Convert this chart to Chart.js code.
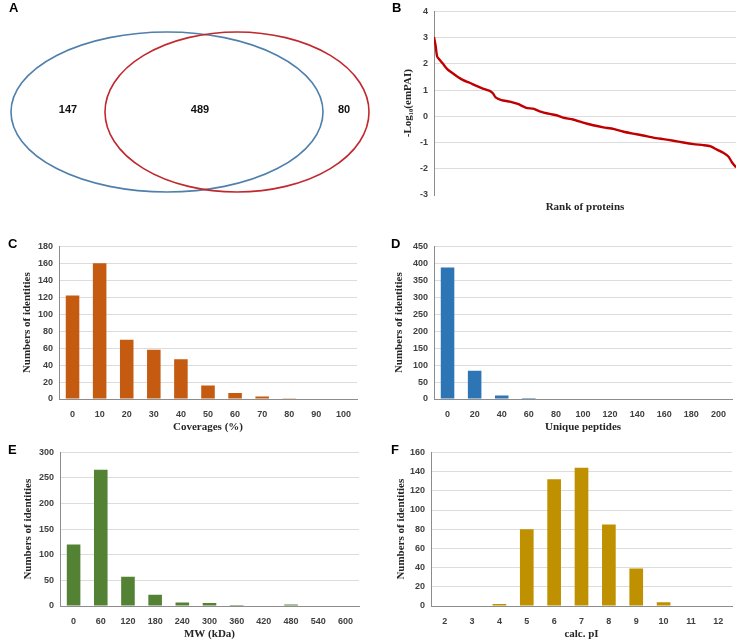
<!DOCTYPE html>
<html>
<head>
<meta charset="utf-8">
<script src="https://cdn.jsdelivr.net/npm/chart.js@4.4.1/dist/chart.umd.min.js"></script>
<style>
  body { margin: 0; background: #fff; }
  #wrap { position: relative; width: 738px; height: 642px; overflow: hidden; }
  #wrap canvas { position: absolute; }
  .lab { position: absolute; font: bold 13px "Liberation Sans", Arial, sans-serif; color: #000; }
</style>
</head>
<body>
<div id="wrap">
  <canvas id="vennChart" width="370" height="210" style="left:0;top:0"></canvas>
  <canvas id="rankChart" width="368" height="214" style="left:370px;top:0"></canvas>
  <canvas id="covChart" width="365" height="199" style="left:0;top:235px"></canvas>
  <canvas id="pepChart" width="368" height="199" style="left:370px;top:235px"></canvas>
  <canvas id="mwChart" width="365" height="200" style="left:0;top:441px"></canvas>
  <canvas id="piChart" width="368" height="200" style="left:370px;top:441px"></canvas>
  <div class="lab" style="left:9px;top:0px">A</div>
  <div class="lab" style="left:392px;top:0px">B</div>
  <div class="lab" style="left:8px;top:236px">C</div>
  <div class="lab" style="left:391px;top:236px">D</div>
  <div class="lab" style="left:8px;top:442px">E</div>
  <div class="lab" style="left:391px;top:442px">F</div>
</div>
<script>
// A: venn counts (left only, shared, right only)
const vennCounts = [147, 489, 80];
// B: protein rank vs -log10(emPAI)
const rankX = [0, 3, 6, 11, 17, 26, 36, 45, 55, 67, 80, 92, 105, 111, 116, 127, 143, 158, 174, 187,
  199, 218, 231, 243, 262, 281, 300, 319, 338, 356, 375, 394, 413, 432, 451, 470, 489, 507, 520,
  533, 545, 555, 561, 569];
const rankY = [3.02, 2.7, 2.27, 2.15, 2.0, 1.78, 1.63, 1.5, 1.38, 1.28, 1.16, 1.06, 0.97, 0.88, 0.72,
  0.62, 0.56, 0.47, 0.32, 0.29, 0.19, 0.09, 0.04, -0.05, -0.12, -0.24, -0.34, -0.42, -0.48, -0.58,
  -0.66, -0.73, -0.81, -0.87, -0.93, -1.0, -1.06, -1.1, -1.14, -1.27, -1.39, -1.54, -1.74, -1.95];
// C: coverages
const covLabels = ['0', '10', '20', '30', '40', '50', '60', '70', '80', '90', '100'];
const covValues = [122, 160, 70, 58, 47, 16, 7, 3, 1, 0, 0];
// D: unique peptides
const pepLabels = ['0', '20', '40', '60', '80', '100', '120', '140', '160', '180', '200'];
const pepValues = [388, 83, 10, 3, 0, 0, 0, 0, 0, 0, 0];
// E: molecular weight
const mwLabels = ['0', '60', '120', '180', '240', '300', '360', '420', '480', '540', '600'];
const mwValues = [120, 266, 57, 22, 7, 6, 2, 0, 3, 0, 0];
// F: calc. pI
const piLabels = ['2', '3', '4', '5', '6', '7', '8', '9', '10', '11', '12'];
const piValues = [0, 0, 2, 80, 132, 144, 85, 39, 4, 0, 0];

// venn geometry, in the venn chart's own units (370 x 210 box)
const vennCx = [167, 237], vennCy = [112, 112], vennRx = [156, 132], vennRy = [80, 80];
const vennColors = ['#4f7fab', '#c0282d'];
const vennTextX = [68, 200, 344], vennTextY = [110, 110, 110];

const tickFont = { family: '"Liberation Sans", Arial, sans-serif', size: 9, weight: 'bold' };
const titleFont = { family: '"Liberation Serif", "Times New Roman", serif', size: 11, weight: 'bold' };
const gridCol = '#dcdcdc';
const axisCol = '#8c8c8c';

const vennPlugin = {
  id: 'venn',
  afterDatasetsDraw(chart) {
    const { ctx, scales: { x, y } } = chart;
    vennCx.forEach((cx, i) => {
      const px = x.getPixelForValue(cx), py = y.getPixelForValue(vennCy[i]);
      const rx = Math.abs(x.getPixelForValue(cx + vennRx[i]) - px);
      const ry = Math.abs(y.getPixelForValue(vennCy[i] + vennRy[i]) - py);
      ctx.save();
      ctx.beginPath();
      ctx.ellipse(px, py, rx, ry, 0, 0, 2 * Math.PI);
      ctx.strokeStyle = vennColors[i];
      ctx.lineWidth = 1.6;
      ctx.stroke();
      ctx.restore();
    });
    ctx.save();
    ctx.font = 'bold 11px "Liberation Sans", Arial, sans-serif';
    ctx.fillStyle = '#111';
    ctx.textAlign = 'center';
    ctx.textBaseline = 'middle';
    chart.getDatasetMeta(0).data.forEach((pt, i) => ctx.fillText(String(vennCounts[i]), pt.x, pt.y));
    ctx.restore();
  }
};

new Chart(document.getElementById('vennChart'), {
  type: 'scatter',
  data: {
    datasets: [{
      data: vennCounts.map((c, i) => ({ x: vennTextX[i], y: vennTextY[i] })),
      pointRadius: 0
    }]
  },
  options: {
    responsive: false,
    animation: false,
    layout: { padding: 0 },
    scales: {
      x: { display: false, min: 0, max: 370 },
      y: { display: false, min: 0, max: 210, reverse: true }
    },
    plugins: { legend: { display: false }, tooltip: { enabled: false } }
  },
  plugins: [vennPlugin]
});

new Chart(document.getElementById('rankChart'), {
  type: 'line',
  data: {
    datasets: [{
      data: rankX.map((r, i) => ({ x: r, y: rankY[i] })),
      borderColor: '#c00000',
      borderWidth: 2.4,
      pointRadius: 0,
      tension: 0.2
    }]
  },
  options: {
    responsive: false,
    animation: false,
    layout: { padding: { top: 7, right: 2, left: 32 } },
    scales: {
      x: {
        type: 'linear', min: 0, max: 569,
        ticks: { display: false },
        grid: { display: false },
        border: { display: false },
        title: { display: true, text: 'Rank of proteins', font: titleFont, color: '#262626', padding: 0 },
        afterFit: (s) => { s.height = 19; }
      },
      y: {
        min: -3, max: 4,
        ticks: { stepSize: 1, font: tickFont, color: '#404040', padding: 6 },
        grid: { color: (c) => c.tick && c.tick.value === -3 ? 'rgba(0,0,0,0)' : gridCol, drawTicks: false },
        border: { display: true, color: axisCol },
        title: { display: true, text: '-Log\u2081\u2080(emPAI)', font: titleFont, color: '#262626', padding: 0 },
        afterFit: (s) => { s.width = 32; }
      }
    },
    plugins: { legend: { display: false }, tooltip: { enabled: false } }
  }
});

const drawBars = (id, labels, values, color, yMax, step, xTitle, pad, yWidth, xHeight) => {
  new Chart(document.getElementById(id), {
    type: 'bar',
    data: {
      labels: labels,
      datasets: [{
        data: values,
        backgroundColor: color,
        barPercentage: 0.5,
        categoryPercentage: 1
      }]
    },
    options: {
      responsive: false,
      animation: false,
      layout: { padding: pad },
      scales: {
        x: {
          ticks: { font: tickFont, color: '#404040', padding: 10, maxRotation: 0, autoSkip: false },
          grid: { display: false, drawTicks: false },
          border: { display: true, color: axisCol },
          title: { display: true, text: xTitle, font: titleFont, color: '#262626', padding: 0 },
          afterFit: (s) => { s.height = xHeight; }
        },
        y: {
          min: 0, max: yMax,
          ticks: { stepSize: step, font: tickFont, color: '#404040', padding: 6 },
          grid: { color: gridCol, drawTicks: false },
          border: { display: true, color: axisCol },
          title: { display: true, text: 'Numbers of identities', font: titleFont, color: '#262626', padding: 0 },
          afterFit: (s) => { s.width = yWidth; }
        }
      },
      plugins: { legend: { display: false }, tooltip: { enabled: false } }
    }
  });
};

drawBars('covChart', covLabels, covValues, '#c55a11', 180, 20, 'Coverages (%)',
  { top: 10, right: 8, left: 21 }, 38, 35);
drawBars('pepChart', pepLabels, pepValues, '#2e75b6', 450, 50, 'Unique peptides',
  { top: 10, right: 6, left: 23 }, 41, 35);
drawBars('mwChart', mwLabels, mwValues, '#548235', 300, 50, 'MW (kDa)',
  { top: 10, right: 6, left: 22 }, 38, 35);
drawBars('piChart', piLabels, piValues, '#bf9000', 160, 20, 'calc. pI',
  { top: 10, right: 6, left: 25 }, 36, 35);
</script>
</body>
</html>
